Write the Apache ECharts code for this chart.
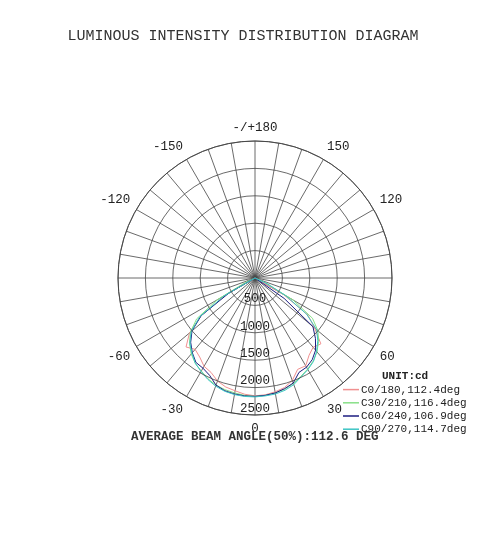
<!DOCTYPE html>
<html>
<head>
<meta charset="utf-8">
<script src="https://cdn.jsdelivr.net/npm/echarts@6/dist/echarts.min.js"></script>
<style>
html,body{margin:0;padding:0;background:#fff;}
#chart{width:486px;height:557px;}
</style>
</head>
<body>
<div id="chart"></div>
<script>
const angles = [-90,-85,-80,-75,-70,-65,-60,-55,-50,-45,-40,-35,-30,-25,-20,-15,-10,-5,0,5,10,15,20,25,30,35,40,45,50,55,60,65,70,75,80,85,90];
const c0_180  = [0,0,0,0,0,0,600,1200,1560,1780,1700,1760,1860,1900,2000,2060,2090,2130,2150,2140,2110,2070,1990,1840,1850,1720,1650,1700,1420,1180,600,0,0,0,0,0,0];
const c30_210 = [0,0,0,0,0,200,800,1300,1540,1690,1810,1900,1960,2030,2080,2110,2130,2150,2160,2150,2130,2100,2050,1980,1920,1850,1760,1640,1500,1280,800,200,0,0,0,0,0];
const c60_240 = [0,0,0,0,0,0,550,1200,1500,1660,1780,1880,1900,1960,2080,2130,2150,2160,2160,2150,2130,2090,2040,1900,1880,1820,1720,1560,1380,650,0,0,0,0,0,0,0];
const c90_270 = [0,0,0,0,0,0,650,1230,1520,1680,1790,1900,1970,2040,2100,2140,2160,2170,2170,2160,2150,2120,2070,1990,1930,1860,1750,1620,1470,1150,650,250,0,0,0,0,0];
const seriesNames = ['C0/180,112.4deg','C30/210,116.4deg','C60/240,106.9deg','C90/270,114.7deg'];
const seriesValues = [c0_180, c30_210, c60_240, c90_270];
const seriesColors = ['#f09090','#88e088','#1c1c80','#3cc4c4'];
const radialTicks = [0,500,1000,1500,2000,2500];
const titleText = 'LUMINOUS INTENSITY DISTRIBUTION DIAGRAM';
const unitText = 'UNIT:cd';
const beamText = 'AVERAGE BEAM ANGLE(50%):112.6 DEG';

const mono = 'Liberation Mono';
const chart = echarts.init(document.getElementById('chart'));

function toData(vals){
  return vals.map((v,i)=>[v, (angles[i]+360)%360]);
}

chart.setOption({
  backgroundColor:'#ffffff',
  animation:false,
  title:[
    {text:titleText, left:'center', top:24, textStyle:{fontFamily:mono, fontSize:15, fontWeight:'normal', color:'#333'}},
    {text:unitText, left:377, top:366, textStyle:{fontFamily:mono, fontSize:11, fontWeight:'bold', color:'#222'}},
    {text:beamText, left:126, top:425, textStyle:{fontFamily:mono, fontSize:12.5, fontWeight:'bold', color:'#333'}}
  ],
  legend:{
    orient:'vertical', left:338, top:378,
    icon:'rect', itemWidth:16, itemHeight:1.5, itemGap:0,
    textStyle:{fontFamily:mono, fontSize:11, color:'#222', lineHeight:13.2, padding:[0,0,0,-3]},
    data:seriesNames
  },
  polar:{center:[255,278], radius:137},
  angleAxis:{
    type:'value', min:0, max:360, interval:10, startAngle:270, clockwise:false,
    axisLine:{show:true, lineStyle:{color:'#444', width:0.9}},
    axisTick:{show:false},
    splitLine:{show:true, lineStyle:{color:'#444', width:0.8}},
    axisLabel:{
      margin:7, fontFamily:mono, fontSize:12.5, color:'#222',
      formatter:function(v){
        if (v % 30 !== 0 || v === 90 || v === 270 || v === 360) return '';
        if (v === 180) return '-/+180';
        if (v > 180) return '-' + (360 - v);
        return String(v);
      }
    }
  },
  radiusAxis:{
    type:'value', min:radialTicks[0], max:radialTicks[radialTicks.length-1], interval:500,
    axisLine:{show:false}, axisTick:{show:false},
    splitLine:{show:true, lineStyle:{color:'#444', width:0.8}},
    axisLabel:{
      margin:0, align:'center', verticalAlign:'bottom', fontFamily:mono, fontSize:12.5, color:'#222',
      formatter:function(v){ return v === 0 ? '' : String(v); }
    },
    z:10
  },
  series: seriesNames.map((n,i)=>({
    name:n, type:'line', coordinateSystem:'polar',
    data:toData(seriesValues[i]), showSymbol:false, symbol:'none',
    lineStyle:{color:seriesColors[i], width:1},
    itemStyle:{color:seriesColors[i]}
  }))
});
</script>
</body>
</html>
